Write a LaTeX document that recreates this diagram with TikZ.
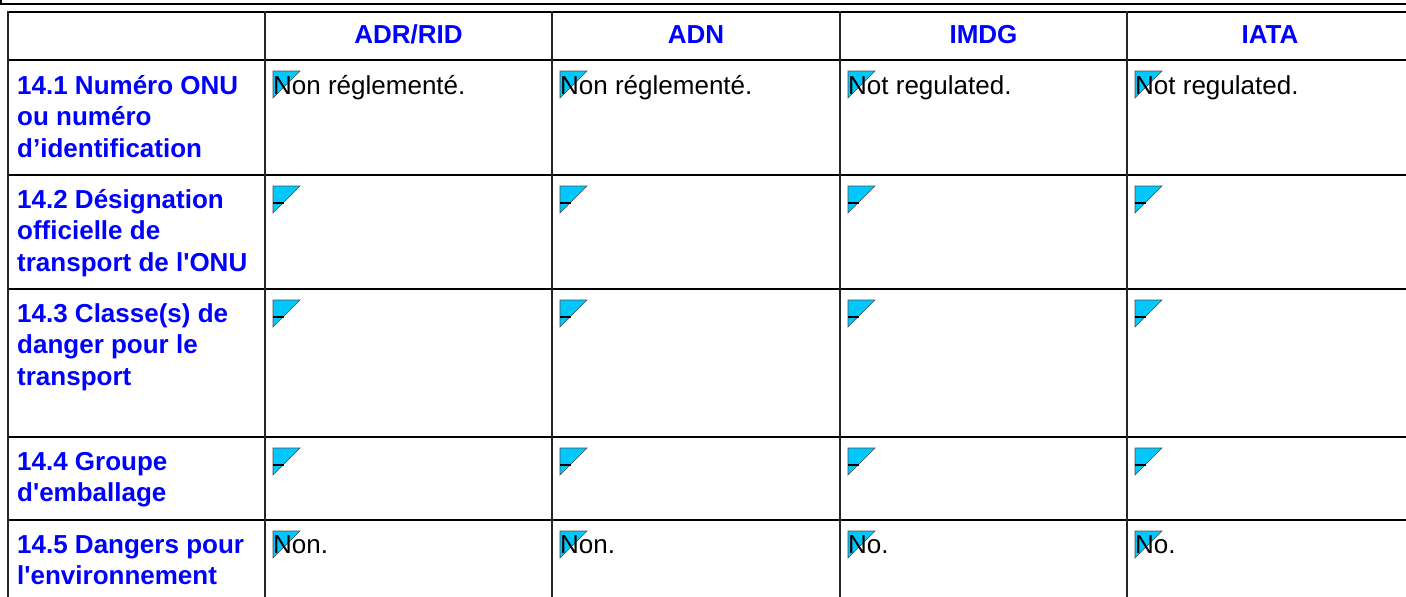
\documentclass[tikz,border=0pt]{standalone}
\usepackage{fontspec}
\setmainfont{Liberation Sans}
\definecolor{hdrblue}{RGB}{0,0,255}
\definecolor{flagcyan}{RGB}{0,200,255}
\tikzset{
  hdr/.style={font=\fontsize{26}{31.5}\selectfont\bfseries, text=hdrblue, anchor=base, inner sep=0pt},
  lbl/.style={font=\fontsize{26}{31.5}\selectfont\bfseries, text=hdrblue, anchor=north west, inner sep=0pt, align=left},
  cell/.style={font=\fontsize{26}{31.5}\selectfont, text=black, anchor=base west, inner sep=0pt},
  hrule/.style={line width=1.8pt, black},
  vrule/.style={line width=1.4pt, black!85},
  flagtri/.style={fill=flagcyan, draw=black!70, line width=0.6pt},
  flagdash/.style={line width=2pt, black}
}
\begin{document}
\begin{tikzpicture}[x=1pt,y=-1pt]
\useasboundingbox (0,0) rectangle (1406,597);
\clip (0,0) rectangle (1406,597);
\fill[white] (0,0) rectangle (1406,597);
% top frame
\draw[line width=2pt] (1,-2) -- (1,3.5) -- (1410,3.5);
% horizontal rules
\foreach \y in {12,60,175,289,437,520}
  \draw[hrule] (7.3,\y) -- (1410,\y);
% vertical rules
\foreach \x in {8,265,552,840,1127}
  \draw[vrule] (\x,11.3) -- (\x,600);
% header
\node[hdr] (hA) at (408.5,43) {ADR/RID};
\node[hdr] (hB) at (696,43) {ADN};
\node[hdr] (hC) at (983.5,43) {IMDG};
\node[hdr] (hD) at (1270,43) {IATA};
% row labels
\node[lbl] (r1) at (17,74) {\rule{0pt}{20pt}14.1 Numéro ONU\\ou numéro\\d’identification};
\node[lbl] (r2) at (17,188) {\rule{0pt}{20pt}14.2 Désignation\\officielle de\\transport de l\textquotesingle ONU};
\node[lbl] (r3) at (17,302) {\rule{0pt}{20pt}14.3 Classe(s) de\\danger pour le\\transport};
\node[lbl] (r4) at (17,450) {\rule{0pt}{20pt}14.4 Groupe\\d\textquotesingle emballage};
\node[lbl] (r5) at (17,533) {\rule{0pt}{20pt}14.5 Dangers pour\\l\textquotesingle environnement};
% flags
\foreach \c in {265,552,840,1127} {
  \foreach \t in {60,175,289,437,520}
    \filldraw[flagtri] (\c+8,\t+11) -- (\c+35,\t+11) -- (\c+8,\t+38) -- cycle;
  \foreach \t in {175,289,437}
    \draw[flagdash] (\c+8,\t+28) -- (\c+19,\t+28);
}
% cell texts
\node[cell] (a1) at (273,94) {Non réglementé.};
\node[cell] (b1) at (560,94) {Non réglementé.};
\node[cell] (c1) at (848,94) {Not regulated.};
\node[cell] (d1) at (1135,94) {Not regulated.};
\node[cell] (a5) at (273,553) {Non.};
\node[cell] (b5) at (560,553) {Non.};
\node[cell] (c5) at (848,553) {No.};
\node[cell] (d5) at (1135,553) {No.};
\end{tikzpicture}
\end{document}
